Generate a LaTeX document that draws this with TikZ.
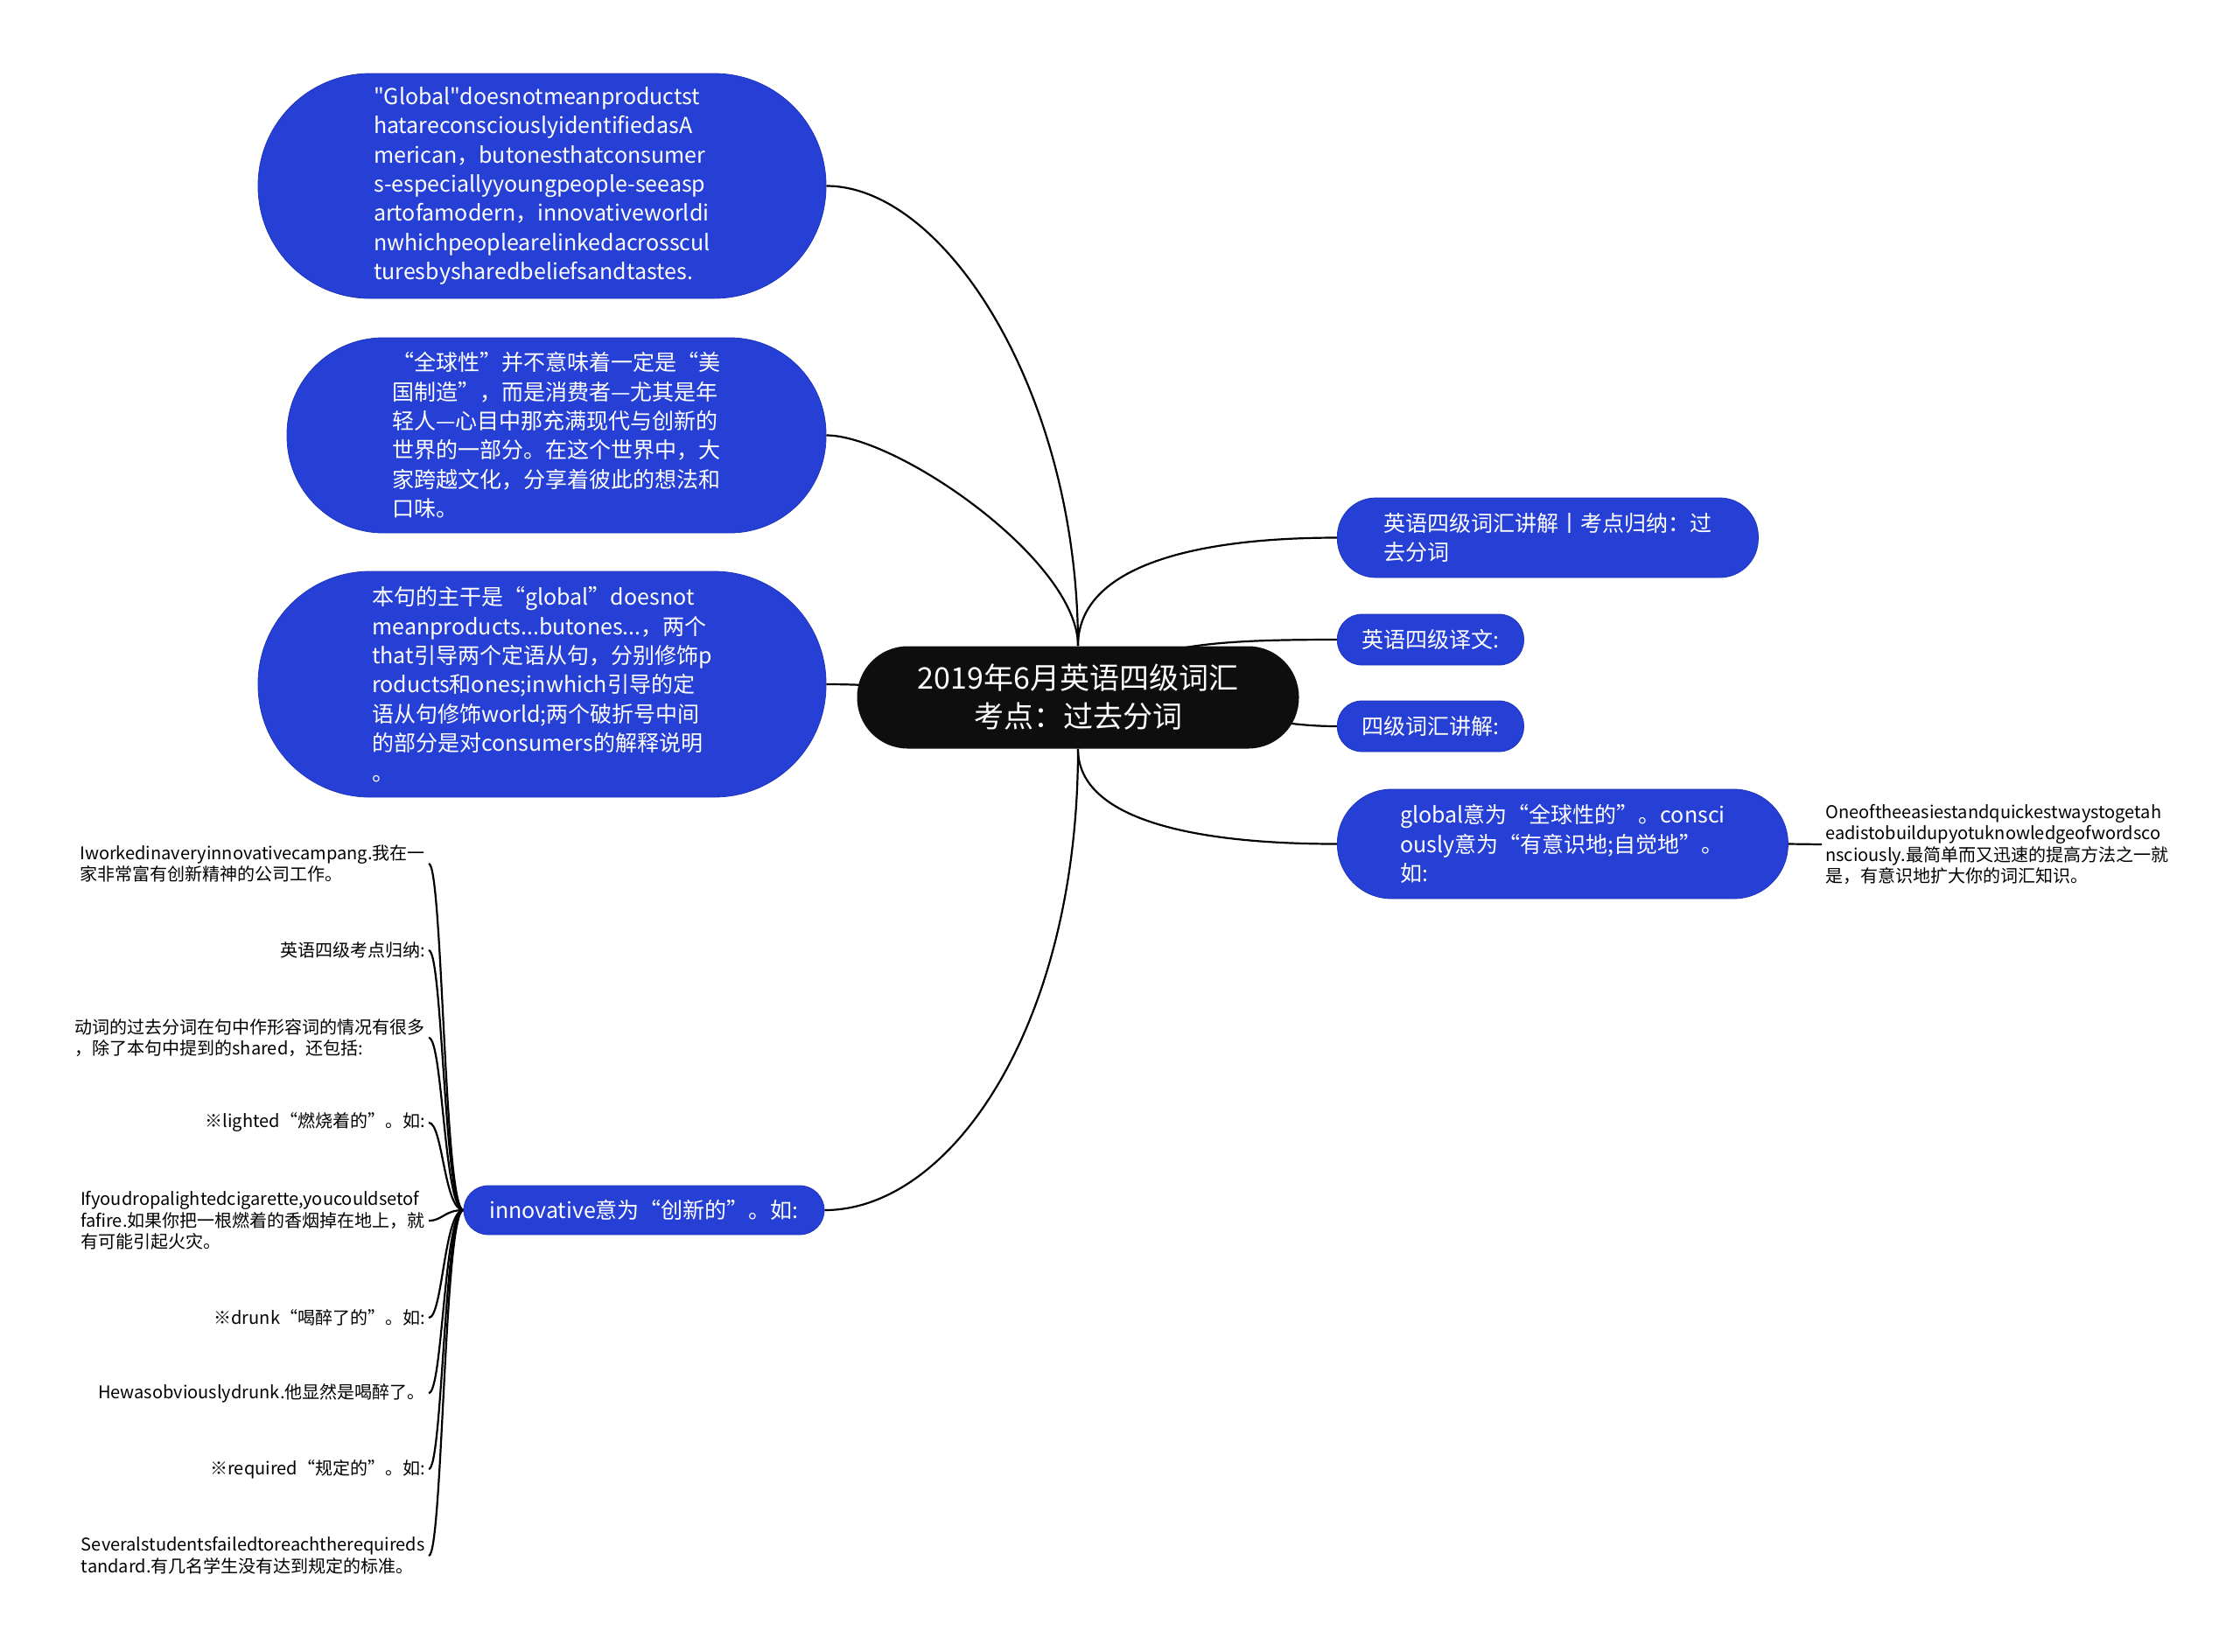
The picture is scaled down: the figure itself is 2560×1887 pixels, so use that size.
\documentclass[tikz,border=0pt]{standalone}
\usepackage{fontspec}
\newfontfamily\mapfont{Noto Sans CJK SC}
\usepackage{tikz}
\usetikzlibrary{backgrounds}
\definecolor{bubblue}{RGB}{38,64,214}
\definecolor{bubedge}{RGB}{30,52,190}
\definecolor{rootblk}{RGB}{14,14,14}

\begin{document}
\begin{tikzpicture}[x=0.5pt, y=-0.5pt]
    \tikzstyle{root} = [rectangle, fill=rootblk, text=white, align=center, inner sep=0pt, font=\mapfont\fontsize{17}{22}\selectfont]
    \tikzstyle{bub} = [rectangle, draw=bubedge, line width=0.4pt, fill=bubblue, text=white, align=left, inner sep=0pt, font=\mapfont\fontsize{12.5}{16.7}\selectfont]
    \tikzstyle{leaf} = [align=left, inner sep=2pt, font=\mapfont\fontsize{10}{12.3}\selectfont]
    \tikzstyle{link} = [line width=1.1pt, black]

    \useasboundingbox (0,0) rectangle (2560,1887);

    % Root
    \node[root, minimum width=252.5pt, minimum height=58.5pt, rounded corners=29pt] (root) at (1232,797) {2019年6月英语四级词汇\\考点：过去分词};

    % Left bubbles
    \node[bub, minimum width=324.5pt, minimum height=128.5pt, rounded corners=64pt] (b1) at (619.5,212.5) {"Global"doesnotmeanproductst\\hatareconsciouslyidentifiedasA\\merican，butonesthatconsumer\\s-especiallyyoungpeople-seeasp\\artofamodern，innovativeworldi\\nwhichpeoplearelinkedacrosscul\\turesbysharedbeliefsandtastes.};
    \node[bub, minimum width=308pt, minimum height=111.5pt, rounded corners=55pt] (b2) at (636,497.5) {“全球性”并不意味着一定是“美\\国制造”，而是消费者—尤其是年\\轻人—心目中那充满现代与创新的\\世界的一部分。在这个世界中，大\\家跨越文化，分享着彼此的想法和\\口味。};
    \node[bub, minimum width=324.5pt, minimum height=129pt, rounded corners=64pt] (b3) at (619.5,782) {本句的主干是“global”doesnot\\meanproducts...butones...，两个\\that引导两个定语从句，分别修饰p\\roducts和ones;inwhich引导的定\\语从句修饰world;两个破折号中间\\的部分是对consumers的解释说明\\。};
    \node[bub, minimum width=206pt, minimum height=28pt, rounded corners=14pt] (inno) at (736,1383) {innovative意为“创新的”。如:};

    % Right bubbles
    \node[bub, anchor=west, minimum width=240.5pt, minimum height=45.5pt, rounded corners=22pt] (r1) at (1528,614.5) {英语四级词汇讲解丨考点归纳：过\\去分词};
    \node[bub, anchor=west, minimum width=106.5pt, minimum height=29pt, rounded corners=14pt] (r2) at (1528,731) {英语四级译文:};
    \node[bub, anchor=west, minimum width=106.5pt, minimum height=29pt, rounded corners=14pt] (r3) at (1528,830) {四级词汇讲解:};
    \node[bub, anchor=west, minimum width=257.5pt, minimum height=62.5pt, rounded corners=31pt] (r4) at (1528,964.5) {global意为“全球性的”。consci\\ously意为“有意识地;自觉地”。\\如:};
    \node[leaf, anchor=west] (g1) at (2082,965) {Oneoftheeasiestandquickestwaystogetah\\eadistobuildupyotuknowledgeofwordsco\\nsciously.最简单而又迅速的提高方法之一就\\是，有意识地扩大你的词汇知识。};

    % Leaves of innovative
    \node[leaf, anchor=east] (l1) at (490,987) {Iworkedinaveryinnovativecampang.我在一\\家非常富有创新精神的公司工作。};
    \node[leaf, anchor=east] (l2) at (490,1086) {英语四级考点归纳:};
    \node[leaf, anchor=east] (l3) at (490,1186) {动词的过去分词在句中作形容词的情况有很多\\，除了本句中提到的shared，还包括:};
    \node[leaf, anchor=east] (l4) at (490,1283) {※lighted“燃烧着的”。如:};
    \node[leaf, anchor=east] (l5) at (490,1395) {Ifyoudropalightedcigarette,youcouldsetof\\fafire.如果你把一根燃着的香烟掉在地上，就\\有可能引起火灾。};
    \node[leaf, anchor=east] (l6) at (490,1506) {※drunk“喝醉了的”。如:};
    \node[leaf, anchor=east] (l7) at (490,1592) {Hewasobviouslydrunk.他显然是喝醉了。};
    \node[leaf, anchor=east] (l8) at (490,1679) {※required“规定的”。如:};
    \node[leaf, anchor=east] (l9) at (490,1778) {Severalstudentsfailedtoreachtherequireds\\tandard.有几名学生没有达到规定的标准。};

    % Links
    \begin{pgfonlayer}{background}
        \draw[link] (root.north) .. controls +(0,-288) and +(136,0) .. (b1.east);
        \draw[link] (root.north) .. controls +(0,-98) and +(80,0) .. (b2.east);
        \draw[link] (root.center) .. controls +(-150,0) and +(100,0) .. (b3.east);
        \draw[link] (root.south) .. controls +(0,315) and +(145,0) .. (inno.east);
        \draw[link] (root.north) .. controls +(0,-87) and +(-174,0) .. (r1.west);
        \draw[link] (root.center) .. controls +(60,-60) and +(-150,0) .. (r2.west);
        \draw[link] (root.center) .. controls +(150,0) and +(-100,0) .. (r3.west);
        \draw[link] (root.south) .. controls +(0,76) and +(-178,0) .. (r4.west);
        \draw[link] (r4.east) -- (g1.west);
        \foreach \i in {1,...,9}
            \draw[link] (inno.west) .. controls +(-22,0) and +(16,0) .. (l\i.east);
    \end{pgfonlayer}

\end{tikzpicture}
\end{document}
